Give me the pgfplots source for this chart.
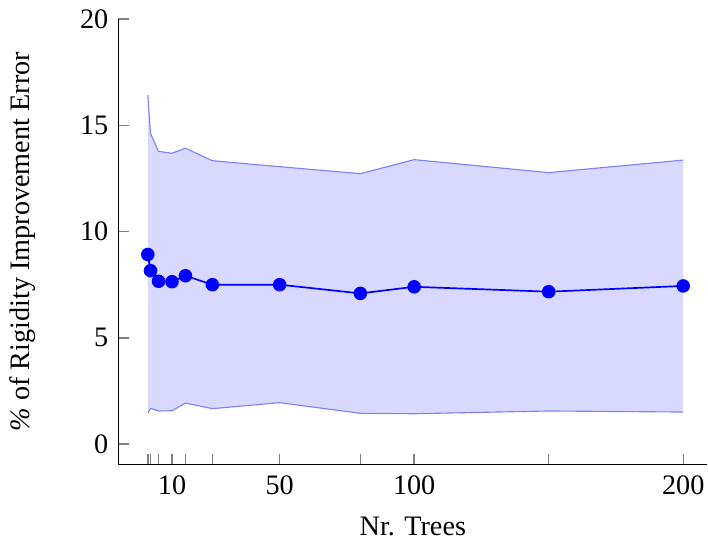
\documentclass[border=0pt]{standalone}
\usepackage{fontspec}
\setmainfont{Liberation Serif}
\usepackage{pgfplots}
\pgfplotsset{compat=1.18}
\usepgfplotslibrary{fillbetween}
\begin{document}
\begin{tikzpicture}
\begin{axis}[
  scale only axis,
  width=209pt, height=158pt,
  axis lines*=left,
  xmin=-10, xmax=209, ymin=-0.95, ymax=20,
  xtick={1,2,5,10,15,25,50,80,100,150,200},
  xticklabels={,,,10,,,50,,100,,200},
  ytick={0,5,10,15,20},
  tick align=inside,
  tick style={gray, line width=0.5pt},
  major tick length=3.8pt,
  /pgf/number format/assume math mode=true,
  xticklabel style={yshift=-0.5pt, inner xsep=0pt},
  xlabel={Nr. Trees},
  ylabel={\textit{\%} of Rigidity Improvement Error},
  xlabel style={yshift=-1pt},
  ylabel style={yshift=9pt},
]
\addplot[name path=upper, blue!50, line width=0.4pt] coordinates {
(1,16.42) (2,14.62) (5,13.77) (10,13.68) (15,13.92) (25,13.33) (50,13.05) (80,12.72) (100,13.38) (150,12.77) (200,13.36)};
\addplot[name path=lower, blue!50, line width=0.4pt] coordinates {
(1,1.45) (2,1.68) (5,1.56) (10,1.57) (15,1.93) (25,1.67) (50,1.95) (80,1.45) (100,1.43) (150,1.56) (200,1.51)};
\addplot[blue!15, draw=none] fill between[of=upper and lower];
\addplot[blue, line width=0.6pt, mark=*, mark size=2.1pt] coordinates {
(1,8.92) (2,8.16) (5,7.66) (10,7.64) (15,7.92) (25,7.50) (50,7.50) (80,7.09) (100,7.40) (150,7.17) (200,7.44)};
\end{axis}
\end{tikzpicture}
\end{document}
